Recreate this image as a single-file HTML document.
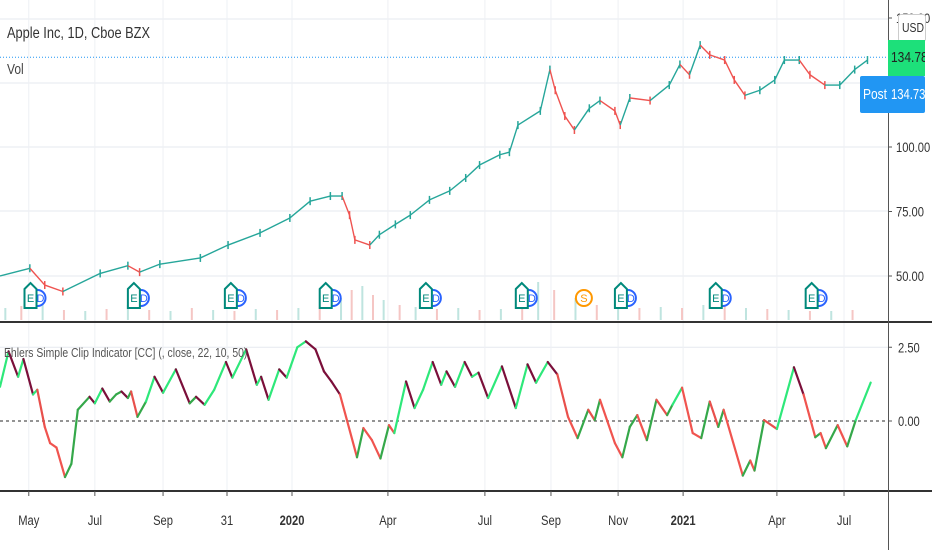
<!DOCTYPE html>
<html><head><meta charset="utf-8">
<style>
body{margin:0;background:#fff;}
svg{display:block;font-family:"Liberation Sans Narrow","Liberation Sans",sans-serif;}
.n{display:inline-block;transform-origin:0 50%;transform:scaleX(0.8);white-space:nowrap;}
</style></head>
<body>
<svg id="c" width="932" height="550" viewBox="0 0 932 550"></svg>
<script>
// ---- data ----
const monthLabels=["May","Jul","Sep","31","2020","Apr","Jul","Sep","Nov","2021","Apr","Jul"];
const monthDays=[27,89,153,213,274,364,455,517,580,641,729,792];
const priceTicks=[150,100,75,50];
const indTicks=[2.5,0];
const priceDays=[0,28,42,59,94,120,131,150,188,214,244,272,291,310,321,328,333,347,356,371,385,403,422,437,450,469,478,486,507,516,521,530,539,553,563,577,582,591,610,628,638,647,657,666,680,689,699,713,727,736,750,760,774,788,802,814];
const priceVals=[50,53,46.5,44,51,54,51.5,54.6,57,62,66.7,72.5,79,81,81,73.6,64,62,66,70,73.6,79.5,83,88,93,97,98,108.5,114,130,122,112,106.6,115,118,114,108.5,119,118,124,132,128,139.5,135.7,133.7,126,120,122,126,133.7,133.7,128,124,124,130,133.7];
const volDays=[5,20,40,60,80,100,120,140,160,180,200,220,240,260,280,300,320,330,340,350,360,375,390,410,430,450,470,490,505,520,540,560,580,600,620,640,660,680,700,720,740,760,780,800];
const volVals=[12,14,18,10,9,11,15,10,9,12,10,9,11,10,12,13,22,30,34,25,20,15,13,11,12,10,11,14,38,30,22,15,14,12,13,12,15,18,12,11,10,9,9,10];
const indDays=[0,8,17,22,31,35,42,47,53,61,67,73,84,89,96,103,109,114,120,123,129,137,145,153,165,178,184,192,201,212,218,231,241,245,252,262,269,279,287,296,304,311,319,335,341,349,357,365,370,381,389,397,406,414,419,427,436,443,449,458,471,484,495,503,514,523,533,542,552,558,563,577,584,591,598,607,616,626,631,640,650,658,666,674,679,697,704,708,717,729,745,754,765,770,775,786,795,803,817];
const indVals=[1.16,2.36,1.5,2.1,0.9,1.06,-0.2,-0.75,-0.9,-1.9,-1.45,0.38,0.82,0.6,1.1,0.66,0.9,1.0,0.78,1.0,0.14,0.66,1.5,0.96,1.75,0.6,0.82,0.55,1.06,2.0,1.47,2.43,1.23,1.5,0.72,1.75,1.47,2.5,2.7,2.43,1.68,1.34,0.9,-1.23,-0.24,-0.65,-1.27,-0.14,-0.41,1.34,0.44,1.06,2.0,1.23,1.68,1.16,2.0,1.5,1.64,0.78,1.85,0.44,1.92,1.3,2.0,1.58,0.14,-0.58,0.38,0.03,0.72,-0.75,-1.23,-0.2,0.2,-0.65,0.72,0.2,0.55,1.13,-0.41,-0.58,0.66,-0.2,0.38,-1.85,-1.34,-1.68,0.03,-0.27,1.82,0.9,-0.55,-0.41,-0.92,-0.14,-0.86,0.03,1.3];
const earnDays=[23,120,211,300,394,484,577,666,756];
const splitDay=516;

// ---- scales ----
const X=d=>d*1.0657;
const PY=p=>276-(p-50)*2.58;
const IY=v=>421-v*29.5;
const VY=v=>320-v;
const svg=document.getElementById('c');
const NS='http://www.w3.org/2000/svg';
function mk(tag,at,parent){const e=document.createElementNS(NS,tag);for(const k in at)e.setAttribute(k,at[k]);(parent||svg).appendChild(e);return e;}
function ntext(x,y,str,at){const g=mk('g',{transform:`translate(${x},${y}) scale(0.8,1)`});const t=mk('text',Object.assign({x:0,y:0},at),g);t.textContent=str;return t;}

// grid
[19,83,147,211,276].forEach(y=>{const l=mk('line',{x1:0,x2:888,y1:y,y2:y,stroke:'#e6e9ef'});

});
mk('line',{x1:0,x2:888,y1:IY(2.5),y2:IY(2.5),stroke:'#e6e9ef'});
monthDays.forEach(d=>{const l=mk('line',{x1:X(d),x2:X(d),y1:0,y2:491,stroke:'#eef0f4'});

});

// volume
volDays.forEach((d,i)=>{const r=mk('rect',{x:X(d)-1,y:VY(volVals[i]),width:2,height:volVals[i],fill:i%2?'#f5c6c4':'#bfe4df'});

});

// last price line
mk('line',{x1:0,x2:888,y1:PY(134.78),y2:PY(134.78),stroke:'#2196f3','stroke-dasharray':'1,2'});

// price series
for(let i=1;i<priceDays.length;i++){
  const up=priceVals[i]>=priceVals[i-1];
  const s=mk('line',{x1:X(priceDays[i-1]),y1:PY(priceVals[i-1]),x2:X(priceDays[i]),y2:PY(priceVals[i]),stroke:up?'#26a69a':'#ef5350','stroke-width':1.4});
  
  
  const w=mk('line',{x1:X(priceDays[i]),y1:PY(priceVals[i])-4,x2:X(priceDays[i]),y2:PY(priceVals[i])+4,stroke:up?'#26a69a':'#ef5350','stroke-width':1.5});
  
  
}

// earnings markers
earnDays.forEach(d=>{const g=mk('g',{transform:`translate(${X(d)},297)`});


mk('circle',{cx:13,cy:1,r:8,fill:'#fff',stroke:'#2962ff','stroke-width':2},g);
mk('path',{d:'M0,-8 L6,-14 L12,-8 L12,11 L0,11 Z',fill:'#fff',stroke:'#00897b','stroke-width':2},g);
const t=mk('text',{x:6,y:5,'font-size':11,fill:'#00897b','text-anchor':'middle'},g);t.textContent='E';
const t2=mk('text',{x:16,y:5,'font-size':11,fill:'#2962ff','text-anchor':'middle'},g);t2.textContent='D';});
{const g=mk('g',{transform:`translate(${X(splitDay)+34},298)`});


mk('circle',{cx:0,cy:0,r:8,fill:'#fff',stroke:'#ff9800','stroke-width':2},g);
const t=mk('text',{x:0,y:4,'font-size':11,fill:'#ff9800','text-anchor':'middle'},g);t.textContent='S';}

// zero line
mk('line',{x1:0,x2:888,y1:IY(0),y2:IY(0),stroke:'#555','stroke-dasharray':'3,3','stroke-width':1.2});

// indicator series
for(let i=1;i<indDays.length;i++){
  const v=indVals[i],p=indVals[i-1];
  const col=v>=p?(v>1?'#2ee87a':'#35a84a'):(v<-0.4?'#f0544f':(v>0.3?'#7b0f3a':'#e8504c'));
  const s=mk('line',{x1:X(indDays[i-1]),y1:IY(p),x2:X(indDays[i]),y2:IY(v),stroke:col,'stroke-width':2.2,'stroke-linecap':'round'});
  
  
}

// separators / axes
mk('rect',{x:0,y:321,width:932,height:2,fill:'#333'});
mk('rect',{x:0,y:490,width:932,height:2,fill:'#333'});
mk('line',{x1:888.5,x2:888.5,y1:0,y2:550,stroke:'#555'});

// price axis labels
priceTicks.forEach(p=>{mk('line',{x1:888,x2:892,y1:PY(p),y2:PY(p),stroke:'#555'});
const t=ntext(896,PY(p)+5,p.toFixed(2),{'font-size':14,fill:'#333'});

});
indTicks.forEach(v=>{mk('line',{x1:888,x2:892,y1:IY(v),y2:IY(v),stroke:'#555'});
const t=ntext(898,IY(v)+5,v.toFixed(2),{'font-size':14,fill:'#333'});

});
monthLabels.forEach((m,i)=>{mk('line',{x1:X(monthDays[i]),x2:X(monthDays[i]),y1:491,y2:496,stroke:'#555'});
const t=ntext(X(monthDays[i]),525,m,{'font-size':14,fill:'#333','text-anchor':'middle','font-weight':(m==='2020'||m==='2021')?'bold':'normal'});

});
</script>
<div style="position:absolute;left:0;top:0;width:932px;height:550px;pointer-events:none;font-family:'Liberation Sans Narrow','Liberation Sans',sans-serif;">
  <div style="position:absolute;left:7px;top:25px;font-size:16px;color:#333;"><span class="n">Apple Inc, 1D, Cboe BZX</span></div>
  <div style="position:absolute;left:7px;top:61px;font-size:15px;color:#444;"><span class="n">Vol</span></div>
  <div style="position:absolute;left:4px;top:345px;font-size:13px;color:#555;"><span class="n">Ehlers Simple Clip Indicator [CC] (, close, 22, 10, 50)</span></div>
  <div style="position:absolute;left:898px;top:14px;width:26px;height:26px;background:#fff;border:1px solid #ccc;border-radius:3px;font-size:13px;color:#333;line-height:26px;overflow:hidden;"><span class="n" style="margin-left:3px">USD</span></div>
  <div style="position:absolute;left:888px;top:40px;width:37px;height:36px;background:#1de07a;font-size:15px;color:#222;line-height:36px;overflow:hidden;"><span class="n" style="margin-left:3px">134.78</span></div>
  <div style="position:absolute;left:860px;top:76px;width:65px;height:37px;background:#2196f3;border-radius:2px;font-size:15px;color:#fff;line-height:37px;overflow:hidden;">
    <span class="n" style="position:absolute;left:3px;">Post</span>
    <span class="n" style="position:absolute;left:31px;transform:scaleX(0.75);">134.73</span>
  </div>
</div>
</body></html>
